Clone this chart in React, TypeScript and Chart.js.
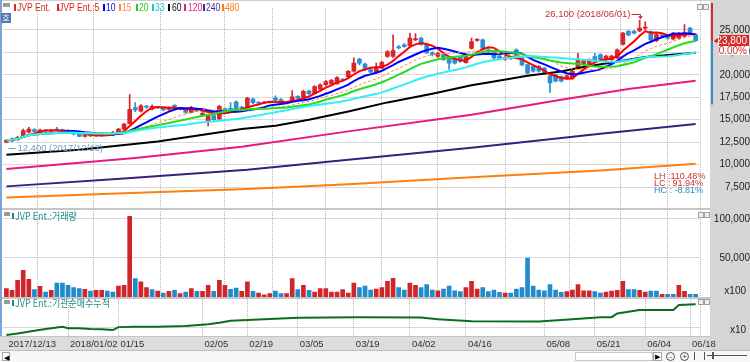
import React, { useEffect, useRef } from "react";
import { Chart, registerables } from "chart.js";

Chart.register(...registerables);

// ---------------- data ----------------
const dates = [
  "2017/12/13","2017/12/14","2017/12/15","2017/12/18","2017/12/19","2017/12/20","2017/12/21","2017/12/22","2017/12/26","2017/12/27","2017/12/28",
  "2018/01/02","2018/01/03","2018/01/04","2018/01/05","2018/01/08","2018/01/09","2018/01/10","2018/01/11","2018/01/12","2018/01/15","2018/01/16","2018/01/17","2018/01/18","2018/01/19","2018/01/22","2018/01/23","2018/01/24","2018/01/25","2018/01/26","2018/01/29","2018/01/30","2018/01/31",
  "2018/02/01","2018/02/02","2018/02/05","2018/02/06","2018/02/07","2018/02/08","2018/02/09","2018/02/12","2018/02/13","2018/02/14","2018/02/19","2018/02/20","2018/02/21","2018/02/22","2018/02/23","2018/02/26","2018/02/27","2018/02/28",
  "2018/03/02","2018/03/05","2018/03/06","2018/03/07","2018/03/08","2018/03/09","2018/03/12","2018/03/13","2018/03/14","2018/03/15","2018/03/16","2018/03/19","2018/03/20","2018/03/21","2018/03/22","2018/03/23","2018/03/26","2018/03/27","2018/03/28","2018/03/29","2018/03/30",
  "2018/04/02","2018/04/03","2018/04/04","2018/04/05","2018/04/06","2018/04/09","2018/04/10","2018/04/11","2018/04/12","2018/04/13","2018/04/16","2018/04/17","2018/04/18","2018/04/19","2018/04/20","2018/04/23","2018/04/24","2018/04/25","2018/04/26","2018/04/27","2018/04/30",
  "2018/05/02","2018/05/03","2018/05/04","2018/05/08","2018/05/09","2018/05/10","2018/05/11","2018/05/14","2018/05/15","2018/05/16","2018/05/17","2018/05/18","2018/05/21","2018/05/23","2018/05/24","2018/05/25","2018/05/28","2018/05/29","2018/05/30","2018/05/31",
  "2018/06/01","2018/06/04","2018/06/05","2018/06/07","2018/06/08","2018/06/11","2018/06/12","2018/06/14","2018/06/15","2018/06/18","2018/06/19"
];

const opens = [
  12500,12650,12800,13050,13600,13900,13550,13800,13750,13900,
  13850,13800,13550,13400,13150,13300,13200,13250,13350,13300,
  13600,13950,14550,16350,15950,16450,16200,16400,16300,16150,
  16600,16250,16100,15800,16100,15550,14900,15450,15100,16200,
  16250,17000,16400,16400,17300,16900,16850,16950,17400,17250,
  16950,17000,17600,17500,18200,17900,18400,18900,19000,19000,
  19500,19800,20400,21750,21200,20600,20300,20750,22050,22050,
  23100,23350,23250,23900,24100,23400,22450,22050,22250,21950,
  21800,21950,21350,22950,23850,23900,22800,22600,22100,21750,
  21950,22800,21900,21150,20950,20950,20750,19850,20000,19800,
  19650,19650,20750,21150,21150,22050,22250,21700,21700,21900,
  23400,24850,24850,24900,25200,24800,23800,24400,24300,24000,
  24100,24300,25200,24500
];
const highs = [
  12800,12950,13150,13950,14150,14000,13950,13900,13900,14150,
  13950,13900,13650,13450,13400,13350,13400,13400,13450,13700,
  14050,14600,17800,16900,16700,16600,16650,16500,16350,16450,
  16700,16350,16150,16500,16200,15850,15550,15500,16600,16300,
  16900,17100,16500,17500,17400,17000,17050,17050,17650,17350,
  17050,18250,17700,18300,18300,18800,19000,19350,19500,19800,
  19600,20500,21900,21850,21300,20700,21300,21500,22700,24450,
  23300,23500,24650,24600,24200,23500,22600,22550,22350,22000,
  21900,22050,22350,24100,24050,24000,22900,22700,22200,22050,
  22000,22900,22000,21200,21000,21050,20850,19950,20100,19900,
  20000,20500,22400,21650,21800,22400,22350,22200,22200,22900,
  24750,24950,24950,26100,25900,24900,24600,24500,24450,24750,
  24750,25600,25300,24600
];
const lows = [
  12400,12550,12700,13000,13500,13600,13450,13650,13650,13750,
  13700,13450,13300,13100,13050,13100,13150,13150,13200,13250,
  13550,13900,14500,15900,15850,16250,16100,16250,16000,16050,
  16200,16100,15700,15750,15900,15400,14300,14900,15000,15900,
  15950,15900,16200,16300,16800,16750,16800,16850,17050,16950,
  16800,16950,17300,17400,17800,17850,18300,18800,18900,18950,
  19300,19700,20300,21100,20500,20200,20200,20700,21950,21950,
  22900,23050,23150,23800,23300,22350,22100,21950,21600,20600,
  21200,21400,21300,22850,23750,22850,22400,21800,21700,21650,
  21700,21800,21000,20100,20300,20300,20100,18050,19200,19200,
  19550,19550,20650,21050,21050,21400,21650,21600,21600,21800,
  23300,24350,24550,24800,25000,23800,23700,24250,23950,23900,
  24000,24200,24500,23750
];
const closes = [
  12700,12850,13050,13800,13950,13700,13850,13750,13800,13850,
  13750,13550,13400,13150,13300,13200,13300,13300,13250,13600,
  13950,14500,16150,16100,16550,16400,16500,16350,16100,16350,
  16300,16200,15800,16350,16000,15700,15450,15000,16500,16000,
  16150,16000,16300,17400,16900,16850,16950,16900,17150,17000,
  16900,17550,17400,18150,17900,18700,18900,19250,19400,19700,
  19400,20400,21300,21300,20600,20300,20750,21400,22600,22700,
  23000,23150,24100,24050,23400,22450,22250,22400,21700,21300,
  21300,21500,22250,23700,23900,22950,22600,21900,21800,21950,
  21850,21900,21100,20200,20400,20400,20200,19100,19300,19300,
  19900,20400,21750,21550,21700,21500,21750,22100,22100,22800,
  24650,24450,24650,25200,25300,23900,24500,24350,24100,24650,
  24650,24700,24700,23800
];

// volume in units of x100 shares
const volumes = [
  10800,8600,21400,34200,22700,9400,13700,6400,8600,18000,
  18000,15000,12000,10800,9900,7700,8600,8600,7700,6400,
  14100,15000,103500,23500,19300,12000,9400,7700,5100,7300,
  8600,4300,6400,10800,7300,7300,15000,7300,21400,15000,
  9900,11500,7300,19300,7300,5100,2800,4300,7700,4300,
  4300,23500,9400,15000,8600,6400,10800,10800,6400,6400,
  9400,5100,18000,12000,14000,9000,10000,12000,20000,24000,
  12000,9000,18000,15000,12000,16000,9000,8000,10000,14000,
  8000,7000,12000,20000,10000,12000,7000,9000,6000,5000,
  5000,10000,12000,50000,14000,9000,8000,16000,9000,6000,
  7000,9000,16000,8000,8000,7000,5100,6400,7700,8600,
  20100,9400,9400,8600,6400,7700,7700,3400,3400,3400,
  15000,7300,3400,3400
];
const volumeUp = [
  1,1,1,1,1,0,1,0,1,0, 0,0,0,0,1,0,1,1,0,0, 1,1,1,0,1,1,0,1,0,1,
  0,1,0,1,0,1,1,0,1,1, 0,0,1,1,0,1,1,1,0,0, 1,1,0,1,0,1,1,1,1,1,
  1,1,1,0,0,0,1,1,1,1, 0,0,1,1,0,0,0,1,0,0, 0,0,1,1,1,0,0,0,0,1,
  0,0,0,0,0,0,0,0,0,0, 1,1,1,1,1,0,0,1,1,1, 1,0,0,1,1,0,0,1,0,0,
  1,1,0,0
];

// short moving-average periods (computed from closes)
const maPeriods = [5, 10, 15, 20, 33];
// long moving averages (index, value)
const ma60Idx = [0, 13, 27, 42, 48, 54, 61, 68, 76, 83, 87, 93, 99, 102, 108, 114, 123];
const ma60Val = [11100, 11660, 12580, 13960, 14330, 15000, 15925, 16930, 17900, 18840, 19270, 19900, 20380, 20760, 21380, 21985, 22470];
const ma120Idx = [0, 23, 42, 61, 83, 99, 111, 123];
const ma120Val = [9510, 10730, 11990, 13700, 15560, 17230, 18420, 19350];
const ma240Idx = [0, 21, 43, 61, 83, 106, 123];
const ma240Val = [7570, 8460, 9430, 10540, 11880, 13440, 14520];
const ma480Idx = [0, 21, 43, 61, 83, 106, 123];
const ma480Val = [6340, 6810, 7280, 7800, 8590, 9350, 10100];

// institutional net-buy cumulative (x10)
const instIdx = [0,2,5,7,10,11,13,15,17,19,20,23,27,32,36,38,40,43,52,63,74,77,83,95,101,106,108,109,113,119,120,123];
const instVal = [3,7,14,19,25,21,21,19,18,16,24,25,25,27,32,36,41,43,49,51,50,45,40,39,45,51,51,61,70,70,84,86];

const priceTicks = [7500, 10000, 12500, 15000, 17500, 20000, 22500, 25000];
const volumeTicks = [50000, 100000];
const instTicks = [22];
const xTickDates = ["2017/12/13","2018/01/02","2018/01/15","2018/02/05","2018/02/19","2018/03/05","2018/03/19","2018/04/02","2018/04/16","2018/05/08","2018/05/21","2018/06/04","2018/06/18"];
const xTickText = ["2017/12/13","2018/01/02","01/15","02/05","02/19","03/05","03/19","04/02","04/16","05/08","05/21","06/04","06/18"];
const bandLow = 16700;
const changeText = "0.00%";

// ---------------- styles ----------------
const FONT = "'Liberation Sans', Arial, sans-serif";
const CJK = "'Noto Sans CJK KR', 'Liberation Sans', sans-serif";
const RED = "#d8262a";
const BLUE = "#2b8fd1";
const GRID = "#b4b4b4";
const TEAL = "#1f8a8a";
const X_MIN = -0.5;
const X_MAX = 123.77;
const P_MIN = 5271;
const P_MAX = 27452;
const V_MAX = 110256;
const maShortStyle = [
  { color: "#ff0000", width: 2, dash: [] as number[] },
  { color: "#0000ff", width: 2, dash: [] as number[] },
  { color: "#ff8a3d", width: 1, dash: [3, 2] },
  { color: "#22dd22", width: 2, dash: [] as number[] },
  { color: "#33eef5", width: 2, dash: [] as number[] },
];
const maLongStyle = ["#000000", "#e8197f", "#3b1f7d", "#ff7f0e"];
const legendSqX = [14, 56.7, 103, 119.3, 135.7, 152.3, 168.3, 184.3, 203.3, 221.7];
const legendTxX = [16.5, 59, 106, 122, 138.5, 155, 171.5, 187.5, 206, 225];
const legendColors = ["#d42a2a", "#e02020", "#0000ff", "#ff8a3d", "#1fcf1f", "#12c9d2", "#000000", "#e8197f", "#4a2a90", "#ff7f0e"];

const fmt = (v: number) => Math.round(v).toLocaleString("en-US");

function movingAverage(vals: number[], n: number) {
  return vals.map((_, i) => {
    const s = Math.max(0, i - n + 1);
    let sum = 0;
    for (let k = s; k <= i; k++) sum += vals[k];
    return { x: i, y: sum / (i - s + 1) };
  });
}
const sparse = (idx: number[], val: number[]) => idx.map((x, k) => ({ x, y: val[k] }));

export default function App() {
  const priceRef = useRef<HTMLCanvasElement>(null);
  const volRef = useRef<HTMLCanvasElement>(null);
  const instRef = useRef<HTMLCanvasElement>(null);

  const hiVal = Math.max(...highs);
  const loVal = Math.min(...lows);
  const last = closes[closes.length - 1];
  const lh = ((hiVal - loVal) / loVal) * 100;
  const lc = ((last - loVal) / loVal) * 100;
  const hc = ((last - hiVal) / hiVal) * 100;

  useEffect(() => {
    Chart.defaults.font.family = FONT;
    const xTickIdx = xTickDates.map((d) => dates.indexOf(d));

    const makeX = (labels: boolean, height: number) => ({
      type: "linear",
      min: X_MIN,
      max: X_MAX,
      offset: false,
      afterBuildTicks: (s: any) => {
        s.ticks = xTickIdx.map((v) => ({ value: v }));
      },
      afterFit: (s: any) => {
        s.height = height;
        s.paddingLeft = 0;
        s.paddingRight = 0;
        s.paddingTop = 0;
        s.paddingBottom = 0;
      },
      grid: {
        color: (c: any) => (c.index === 0 ? "rgba(0,0,0,0)" : GRID),
        drawTicks: false,
        lineWidth: 1,
      },
      border: { display: false, dash: [1, 1] },
      ticks: {
        display: labels,
        autoSkip: false,
        maxRotation: 0,
        minRotation: 0,
        align: "start",
        labelOffset: 2,
        padding: 3,
        color: "#333",
        font: { family: FONT, size: 9.5 },
        callback: (v: any) => {
          const k = xTickIdx.indexOf(v);
          return k >= 0 ? xTickText[k] : "";
        },
      },
    });

    const makeY = (min: number, max: number, ticks: number[], pad: number, label: boolean) => ({
      position: "right",
      min,
      max,
      afterBuildTicks: (s: any) => {
        s.ticks = ticks.map((v) => ({ value: v }));
      },
      afterFit: (s: any) => {
        s.width = 50;
        s.paddingTop = 0;
        s.paddingBottom = 0;
        s.paddingLeft = 0;
        s.paddingRight = 0;
      },
      grid: { color: GRID, drawTicks: false, lineWidth: 1 },
      border: { display: false, dash: [1, 1] },
      ticks: {
        padding: pad,
        crossAlign: "far",
        color: "#222",
        font: { family: FONT, size: 10 },
        callback: (v: any) => (label ? fmt(v) : ""),
      },
    });

    const upDown = closes.map((c, i) => (c >= opens[i] ? RED : BLUE));

    const priceDecor = {
      id: "priceDecor",
      afterDraw(chart: any) {
        const { ctx, chartArea, scales } = chart;
        const xs = scales.x;
        const ys = scales.y;
        ctx.save();
        // high annotation
        const hiIdx = highs.indexOf(hiVal);
        const hx = Math.round(xs.getPixelForValue(hiIdx)) + 0.5;
        const hy = ys.getPixelForValue(hiVal);
        const ty = Math.round(hy - 6) + 0.5;
        ctx.strokeStyle = "#c83030";
        ctx.fillStyle = "#c83030";
        ctx.lineWidth = 1;
        ctx.beginPath();
        ctx.moveTo(hx - 9, ty);
        ctx.lineTo(hx, ty);
        ctx.lineTo(hx, hy - 3);
        ctx.stroke();
        ctx.beginPath();
        ctx.moveTo(hx - 2.5, hy - 4);
        ctx.lineTo(hx + 2.5, hy - 4);
        ctx.lineTo(hx, hy - 1);
        ctx.closePath();
        ctx.fill();
        ctx.font = "9.5px " + FONT;
        ctx.textAlign = "right";
        ctx.textBaseline = "middle";
        ctx.fillText(`${fmt(hiVal)} (${dates[hiIdx]})`, hx - 10, ty);

        // low annotation
        const loIdx = lows.indexOf(loVal);
        const lx = xs.getPixelForValue(loIdx);
        const ly = ys.getPixelForValue(loVal);
        ctx.strokeStyle = "#6f9cc8";
        ctx.fillStyle = "#6f9cc8";
        ctx.beginPath();
        ctx.moveTo(lx + 2, Math.round(ly + 5) + 0.5);
        ctx.lineTo(lx + 9, Math.round(ly + 5) + 0.5);
        ctx.stroke();
        ctx.textAlign = "left";
        ctx.fillText(`${fmt(loVal)} (${dates[loIdx]})`, lx + 11, ly + 5.5);

        // right side price bar and last price box
        const lastIdx = closes.length - 1;
        const cy = Math.round(ys.getPixelForValue(closes[lastIdx]));
        const bx = chartArea.right + 11;
        ctx.fillStyle = "#d42a2a";
        ctx.fillRect(bx, 3, 2, cy - 3);
        ctx.fillStyle = "#2b8fd1";
        ctx.fillRect(bx, cy, 2, ys.getPixelForValue(bandLow) - cy);
        ctx.fillStyle = "#d42a2a";
        ctx.beginPath();
        ctx.moveTo(bx + 3, cy);
        ctx.lineTo(bx + 7, cy - 3.5);
        ctx.lineTo(bx + 7, cy + 3.5);
        ctx.closePath();
        ctx.fill();
        ctx.fillRect(bx + 8, cy - 6, 30, 11);
        ctx.fillStyle = "#ffffff";
        ctx.fillRect(bx + 8, cy + 5, 30, 9);
        ctx.font = "10px " + FONT;
        ctx.textAlign = "right";
        ctx.fillStyle = "#ffffff";
        ctx.fillText(fmt(closes[lastIdx]), 747, cy);
        ctx.fillStyle = "#d42a2a";
        ctx.fillText(changeText, 747, cy + 10);
        ctx.restore();
      },
    };

    const unitDecor = (text: string, yPos: number) => ({
      id: "unit" + text,
      afterDraw(chart: any) {
        const { ctx } = chart;
        ctx.save();
        ctx.font = "10px " + FONT;
        ctx.fillStyle = "#222";
        ctx.textAlign = "right";
        ctx.textBaseline = "middle";
        ctx.fillText(text, 746, yPos);
        ctx.restore();
      },
    });

    const lineDs = (data: any[], color: string, width: number, dash: number[], order: number) => ({
      type: "line",
      data,
      borderColor: color,
      borderWidth: width,
      borderDash: dash,
      pointRadius: 0,
      fill: false,
      tension: 0,
      order,
    });

    const shortMa = maPeriods.map((p, k) =>
      lineDs(movingAverage(closes, p), maShortStyle[k].color, maShortStyle[k].width, maShortStyle[k].dash, 4 - k)
    );
    const longMa = [
      lineDs(sparse(ma60Idx, ma60Val), maLongStyle[0], 2, [], 5),
      lineDs(sparse(ma120Idx, ma120Val), maLongStyle[1], 2, [], 6),
      lineDs(sparse(ma240Idx, ma240Val), maLongStyle[2], 2, [], 7),
      lineDs(sparse(ma480Idx, ma480Val), maLongStyle[3], 2, [], 8),
    ];

    const c1 = new Chart(priceRef.current as any, {
      type: "bar",
      data: {
        datasets: [
          ...shortMa,
          ...longMa,
          {
            type: "bar",
            data: dates.map((_, i) => ({ x: i, y: [opens[i], closes[i]] })),
            backgroundColor: upDown,
            barThickness: 4,
            minBarLength: 1,
            grouped: false,
            order: 10,
          },
          {
            type: "bar",
            data: dates.map((_, i) => ({ x: i, y: [lows[i], highs[i]] })),
            backgroundColor: upDown,
            barThickness: 1,
            grouped: false,
            order: 11,
          },
        ] as any,
      },
      options: {
        animation: false,
        responsive: false,
        events: [],
        layout: { padding: { left: 3.6, right: 0, top: 8, bottom: 2 } },
        plugins: { legend: { display: false }, tooltip: { enabled: false } },
        scales: {
          x: makeX(false, 0) as any,
          y: makeY(P_MIN, P_MAX, priceTicks, 15, true) as any,
        },
      },
      plugins: [priceDecor],
    });

    const c2 = new Chart(volRef.current as any, {
      type: "bar",
      data: {
        datasets: [
          {
            type: "bar",
            data: volumes.map((v, i) => ({ x: i, y: v })),
            backgroundColor: volumeUp.map((u) => (u ? "#d0262a" : "#218bcc")),
            barThickness: 4,
            grouped: false,
          },
        ] as any,
      },
      options: {
        animation: false,
        responsive: false,
        events: [],
        layout: { padding: { left: 3.6, right: 0, top: 2, bottom: 1 } },
        plugins: { legend: { display: false }, tooltip: { enabled: false } },
        scales: {
          x: makeX(false, 0) as any,
          y: makeY(0, V_MAX, volumeTicks, 10, true) as any,
        },
      },
      plugins: [unitDecor("x100", 82)],
    });

    const c3 = new Chart(instRef.current as any, {
      type: "line",
      data: {
        datasets: [
          {
            data: sparse(instIdx, instVal),
            borderColor: "#0c6e1c",
            borderWidth: 2,
            pointRadius: 0,
            fill: false,
            tension: 0,
          },
        ] as any,
      },
      options: {
        animation: false,
        responsive: false,
        events: [],
        layout: { padding: { left: 3.6, right: 0, top: 1, bottom: 0 } },
        plugins: { legend: { display: false }, tooltip: { enabled: false } },
        scales: {
          x: makeX(true, 14) as any,
          y: makeY(0, 100, instTicks, 10, false) as any,
        },
      },
      plugins: [unitDecor("x10", 32)],
    });

    return () => {
      c1.destroy();
      c2.destroy();
      c3.destroy();
    };
  }, []);

  const abs = (s: any) => ({ position: "absolute", ...s });
  const legendTexts = ["JVP Ent.", `JVP Ent.:${maPeriods[0]}`, ...maPeriods.slice(1).map(String), "60", "120", "240", "480"];

  return (
    <div style={abs({ left: 0, top: 0, width: 750, height: 362, background: "#ffffff", overflow: "hidden", fontFamily: FONT })}>
      {/* frame backgrounds */}
      <div style={abs({ left: 710, top: 0, width: 40, height: 350, background: "#d5d5d5" })} />
      <div style={abs({ left: 0, top: 336, width: 710, height: 14, background: "#dcdcdc", borderTop: "1px solid #c4c4c4", boxSizing: "border-box" })} />
      <div style={abs({ left: 0, top: 0, width: 710, height: 1, background: "#cfcfcf" })} />
      <div style={abs({ left: 0, top: 208, width: 710, height: 2, background: "#c6c6c6" })} />
      <div style={abs({ left: 0, top: 297, width: 710, height: 2, background: "#c6c6c6" })} />
      <div style={abs({ left: 700, top: 1, width: 0, height: 335, borderLeft: "1px dotted #b8b8b8" })} />
      <div style={abs({ left: 0, top: 0, width: 2, height: 336, background: "#7aa7d8" })} />

      {/* charts */}
      <canvas ref={priceRef} width={750} height={209} style={abs({ left: 0, top: 0, width: 750, height: 209 })} />
      <canvas ref={volRef} width={750} height={89} style={abs({ left: 0, top: 209, width: 750, height: 89 })} />
      <canvas ref={instRef} width={750} height={52} style={abs({ left: 0, top: 298, width: 750, height: 52 })} />

      {/* top legend */}
      <div style={abs({ left: 3, top: 3, width: 7, height: 4, background: "#9a9a9a" })} />
      <div style={abs({ left: 1, top: 13, width: 10, height: 10, background: "#5578b0", color: "#fff", fontFamily: CJK, fontSize: 8, lineHeight: "10px", textAlign: "center" })}>호</div>
      {legendTexts.map((t, k) => (
        <React.Fragment key={k}>
          <div style={abs({ left: legendSqX[k], top: 4, width: 2, height: 7, background: legendColors[k] })} />
          <div style={abs({ left: legendTxX[k], top: 1, fontSize: 11, lineHeight: "12px", color: legendColors[k], whiteSpace: "nowrap", transform: "scaleX(0.78)", transformOrigin: "left" })}>{t}</div>
        </React.Fragment>
      ))}
      <div style={abs({ left: 697, top: 4, width: 4, height: 4, border: "1px solid #a0a0a0", background: "#eee" })} />
      <div style={abs({ left: 703, top: 4, width: 4, height: 4, border: "1px solid #a0a0a0", background: "#eee" })} />

      {/* LH / LC / HC */}
      {[
        ["LH :", lh.toFixed(2) + "%", "#c8322d", 172],
        ["LC :", lc.toFixed(2) + "%", "#c8322d", 179],
        ["HC :", hc.toFixed(2) + "%", "#2a8bc8", 186],
      ].map((r: any, k) => (
        <div key={k} style={abs({ left: 654, top: r[3], width: 49, height: 9, fontSize: 9, lineHeight: "9px", color: r[2], display: "flex", justifyContent: "space-between", whiteSpace: "nowrap" })}>
          <span>{r[0]}</span>
          <span>{r[1]}</span>
        </div>
      ))}

      {/* volume pane legend */}
      <div style={abs({ left: 4, top: 212, width: 6, height: 4, background: "#9a9a9a" })} />
      <div style={abs({ left: 12, top: 213, width: 2, height: 6, background: TEAL })} />
      <div style={abs({ left: 14.5, top: 209, fontFamily: CJK, fontSize: 10, lineHeight: "13px", color: TEAL, whiteSpace: "nowrap", transform: "scaleX(0.9)", transformOrigin: "left" })}>JVP Ent.:거래량</div>
      <div style={abs({ left: 698, top: 212, width: 4, height: 4, border: "1px solid #a0a0a0", background: "#eee" })} />
      <div style={abs({ left: 704, top: 212, width: 4, height: 4, border: "1px solid #a0a0a0", background: "#eee" })} />

      {/* institution pane legend */}
      <div style={abs({ left: 4, top: 300, width: 6, height: 4, background: "#9a9a9a" })} />
      <div style={abs({ left: 12, top: 300, width: 2, height: 6, background: TEAL })} />
      <div style={abs({ left: 14.5, top: 296, fontFamily: CJK, fontSize: 10, lineHeight: "13px", color: TEAL, whiteSpace: "nowrap", transform: "scaleX(0.9)", transformOrigin: "left" })}>JVP Ent.:기관순매수누적</div>
      <div style={abs({ left: 698, top: 299, width: 4, height: 4, border: "1px solid #a0a0a0", background: "#eee" })} />
      <div style={abs({ left: 704, top: 299, width: 4, height: 4, border: "1px solid #a0a0a0", background: "#eee" })} />

      {/* bottom scroll row */}
      <div style={abs({ left: 0, top: 350, width: 750, height: 12, background: "#f7f7f7", borderTop: "1px solid #bdbdbd", boxSizing: "border-box" })} />
      <div style={abs({ left: 2, top: 352, width: 8, height: 9, border: "1px solid #a8a8a8", background: "#fff", fontSize: 7, lineHeight: "9px", textAlign: "center", color: "#000", boxSizing: "border-box" })}>◀</div>
      <div style={abs({ left: 575, top: 352, width: 78, height: 9, border: "1px solid #c8c8c8", background: "#fff", boxSizing: "border-box" })} />
      <div style={abs({ left: 653, top: 352, width: 9, height: 9, border: "1px solid #a8a8a8", background: "#fff", fontSize: 7, lineHeight: "8px", textAlign: "center", color: "#000", boxSizing: "border-box" })}>▶</div>
      <div style={abs({ left: 666, top: 352, width: 9, height: 9, borderRadius: 5, border: "1px solid #555", fontSize: 8, lineHeight: "7px", textAlign: "center", color: "#333", boxSizing: "border-box" })}>-</div>
      <div style={abs({ left: 680, top: 352, width: 9, height: 9, borderRadius: 5, border: "1px solid #555", fontSize: 8, lineHeight: "7px", textAlign: "center", color: "#333", boxSizing: "border-box" })}>+</div>
      <div style={abs({ left: 694, top: 352, width: 9, height: 8, borderLeft: "1px solid #555", borderRight: "1px solid #555" })} />
      <div style={abs({ left: 707, top: 355, width: 40, height: 1, background: "#555" })} />
      <div style={abs({ left: 712, top: 352, width: 2, height: 7, background: "#555" })} />
    </div>
  );
}
